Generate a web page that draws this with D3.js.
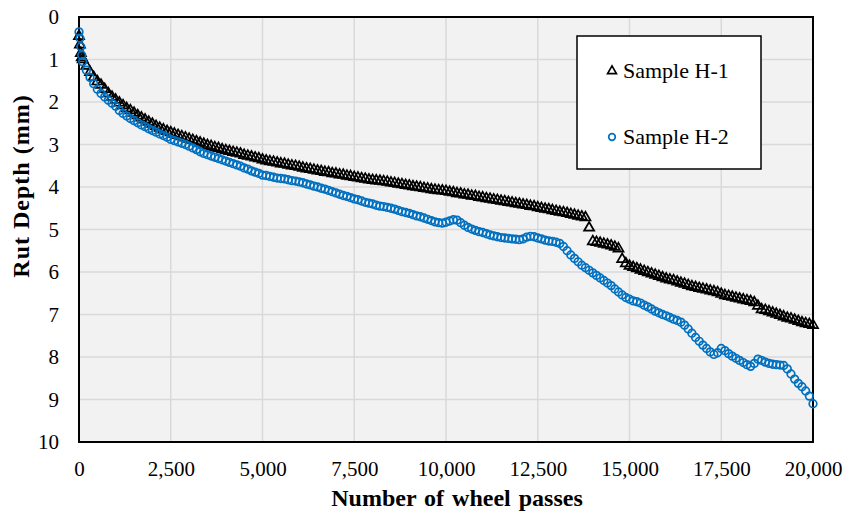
<!DOCTYPE html>
<html><head><meta charset="utf-8">
<script src="https://cdn.jsdelivr.net/npm/d3@7"></script>
<style>body{margin:0;background:#fff}svg{display:block}</style>
</head><body>
<svg id="c" width="844" height="520"></svg>
<script>
const passes = [0,25,50,75,100,200,300,400,500,600,700,800,900,1000,1100,1200,1300,1400,1500,1600,1700,1800,1900,2000,
2100,2200,2300,2400,2500,2600,2700,2800,2900,3000,3100,3200,3300,3400,3500,3600,3700,3800,3900,4000,
4100,4200,4300,4400,4500,4600,4700,4800,4900,5000,5100,5200,5300,5400,5500,5600,5700,5800,5900,6000,
6100,6200,6300,6400,6500,6600,6700,6800,6900,7000,7100,7200,7300,7400,7500,7600,7700,7800,7900,8000,
8100,8200,8300,8400,8500,8600,8700,8800,8900,9000,9100,9200,9300,9400,9500,9600,9700,9800,9900,10000,
10100,10200,10300,10400,10500,10600,10700,10800,10900,11000,11100,11200,11300,11400,11500,11600,11700,11800,11900,12000,
12100,12200,12300,12400,12500,12600,12700,12800,12900,13000,13100,13200,13300,13400,13500,13600,13700,13800,13900,14000,
14100,14200,14300,14400,14500,14600,14700,14800,14900,15000,15100,15200,15300,15400,15500,15600,15700,15800,15900,16000,
16100,16200,16300,16400,16500,16600,16700,16800,16900,17000,17100,17200,17300,17400,17500,17600,17700,17800,17900,18000,
18100,18200,18300,18400,18500,18600,18700,18800,18900,19000,19100,19200,19300,19400,19500,19600,19700,19800,19900,20000];

const sampleH1 = [0.45,0.65,0.85,0.95,1.0,1.15,1.3,1.42,1.52,1.6,1.7,1.8,1.88,1.95,2.02,2.08,2.15,2.2,2.26,2.32,2.37,2.42,2.47,2.52,
2.57,2.61,2.65,2.69,2.72,2.75,2.78,2.81,2.84,2.87,2.9,2.93,2.96,2.99,3.02,3.04,3.07,3.09,3.12,3.14,
3.16,3.18,3.2,3.22,3.25,3.27,3.29,3.31,3.33,3.36,3.38,3.4,3.41,3.43,3.45,3.46,3.48,3.5,3.51,3.53,
3.55,3.57,3.58,3.6,3.62,3.63,3.65,3.66,3.68,3.69,3.71,3.72,3.74,3.75,3.77,3.78,3.8,3.81,3.83,3.84,
3.85,3.86,3.87,3.88,3.9,3.91,3.93,3.94,3.96,3.97,3.99,4.0,4.01,4.03,4.04,4.06,4.07,4.08,4.09,4.1,
4.12,4.13,4.15,4.16,4.18,4.19,4.21,4.22,4.24,4.25,4.27,4.28,4.3,4.31,4.33,4.34,4.36,4.37,4.39,4.4,
4.42,4.43,4.45,4.46,4.48,4.5,4.52,4.53,4.55,4.57,4.59,4.6,4.62,4.64,4.66,4.68,4.7,4.72,4.96,5.28,
5.3,5.32,5.34,5.36,5.38,5.41,5.45,5.7,5.8,5.86,5.89,5.92,5.95,5.98,6.01,6.04,6.07,6.1,6.13,6.16,
6.18,6.2,6.23,6.26,6.28,6.31,6.34,6.36,6.38,6.4,6.42,6.44,6.46,6.48,6.52,6.55,6.57,6.59,6.61,6.63,
6.65,6.67,6.69,6.72,6.8,6.88,6.9,6.93,6.96,6.99,7.02,7.05,7.08,7.1,7.13,7.16,7.19,7.21,7.23,7.25];

const sampleH2 = [0.35,0.5,0.7,0.9,1.05,1.25,1.42,1.57,1.7,1.8,1.88,1.96,2.03,2.1,2.2,2.27,2.33,2.39,2.44,2.49,2.54,2.58,2.63,2.67,
2.71,2.75,2.79,2.83,2.88,2.91,2.94,2.97,3.0,3.04,3.08,3.12,3.17,3.21,3.24,3.27,3.3,3.33,3.36,3.39,
3.42,3.45,3.48,3.51,3.55,3.58,3.62,3.65,3.68,3.72,3.73,3.75,3.77,3.79,3.8,3.81,3.83,3.85,3.86,3.88,
3.9,3.93,3.95,3.98,4.0,4.03,4.05,4.08,4.11,4.14,4.17,4.2,4.22,4.25,4.28,4.3,4.33,4.36,4.38,4.4,
4.43,4.45,4.46,4.48,4.5,4.52,4.55,4.58,4.6,4.62,4.65,4.68,4.7,4.73,4.76,4.79,4.82,4.84,4.85,4.83,
4.8,4.77,4.78,4.84,4.9,4.95,4.99,5.02,5.05,5.07,5.1,5.13,5.15,5.17,5.19,5.2,5.21,5.22,5.23,5.24,
5.22,5.18,5.16,5.17,5.2,5.22,5.25,5.27,5.28,5.3,5.33,5.4,5.5,5.6,5.68,5.76,5.84,5.9,5.96,6.02,
6.08,6.14,6.2,6.26,6.32,6.4,6.47,6.54,6.6,6.64,6.68,6.7,6.73,6.78,6.82,6.87,6.92,6.96,7.0,7.03,
7.07,7.11,7.14,7.18,7.25,7.34,7.44,7.54,7.63,7.72,7.8,7.88,7.94,7.9,7.8,7.85,7.92,7.98,8.03,8.08,
8.13,8.18,8.22,8.15,8.05,8.08,8.12,8.15,8.17,8.18,8.19,8.2,8.28,8.4,8.52,8.62,8.7,8.8,8.92,9.1];

const xTicks = [0,2500,5000,7500,10000,12500,15000,17500,20000];
const yTicks = [0,1,2,3,4,5,6,7,8,9,10];
const seriesNames = ["Sample H-1","Sample H-2"];
const seriesColors = ["#000000","#0070C0"];

const svg = d3.select("#c");
const m = {l:79, t:17, r:813, b:442};
const x = d3.scaleLinear().domain([0,20000]).range([m.l, m.r]);
const y = d3.scaleLinear().domain([0,10]).range([m.t, m.b]);
const font = "'Liberation Serif','Times New Roman',serif";

svg.append("rect").attr("x",m.l).attr("y",m.t).attr("width",m.r-m.l).attr("height",m.b-m.t).attr("fill","#f2f2f2");

svg.append("g").selectAll("line").data(xTicks.slice(1,-1)).join("line")
  .attr("x1",d=>x(d)).attr("x2",d=>x(d)).attr("y1",m.t).attr("y2",m.b)
  .attr("stroke","#d9d9d9").attr("stroke-width",1.5);
svg.append("g").selectAll("line").data(yTicks.slice(1,-1)).join("line")
  .attr("y1",d=>y(d)).attr("y2",d=>y(d)).attr("x1",m.l).attr("x2",m.r)
  .attr("stroke","#d9d9d9").attr("stroke-width",1.5);

const xAxis = svg.append("g").attr("transform",`translate(0,${m.b})`)
  .call(d3.axisBottom(x).tickValues(xTicks).tickSize(0).tickPadding(19).tickFormat(d3.format(",")));
const yAxis = svg.append("g").attr("transform",`translate(${m.l},0)`)
  .call(d3.axisLeft(y).tickValues(yTicks).tickSize(0).tickPadding(20).tickFormat(d3.format("d")));
[xAxis,yAxis].forEach(a=>{
  a.select(".domain").remove();
  a.selectAll("text").attr("font-family",font).attr("font-size",21).attr("fill","#000");
});

svg.append("rect").attr("x",m.l).attr("y",m.t).attr("width",m.r-m.l).attr("height",m.b-m.t)
  .attr("fill","none").attr("stroke","#000").attr("stroke-width",2);

const data1 = passes.map((p,i)=>({p, v:sampleH1[i]}));
const data2 = passes.map((p,i)=>({p, v:sampleH2[i]}));
const tri = d3.symbol().type(d3.symbolTriangle).size(44);

svg.append("g").selectAll("path").data(data1).join("path")
  .attr("d",tri).attr("transform",d=>`translate(${x(d.p)},${y(d.v)})`)
  .attr("fill","none").attr("stroke",seriesColors[0]).attr("stroke-width",1.7);
svg.append("g").selectAll("circle").data(data2).join("circle")
  .attr("cx",d=>x(d.p)).attr("cy",d=>y(d.v)).attr("r",3.8)
  .attr("fill","none").attr("stroke",seriesColors[1]).attr("stroke-width",1.7);

const lg = svg.append("g");
lg.append("rect").attr("x",577).attr("y",36).attr("width",184).attr("height",133)
  .attr("fill","#fff").attr("stroke","#000").attr("stroke-width",1.5);
lg.append("path").attr("d",d3.symbol().type(d3.symbolTriangle).size(34)).attr("transform","translate(612,71)")
  .attr("fill","none").attr("stroke",seriesColors[0]).attr("stroke-width",1.7);
lg.append("circle").attr("cx",612).attr("cy",137).attr("r",3.3)
  .attr("fill","none").attr("stroke",seriesColors[1]).attr("stroke-width",1.7);
lg.selectAll("text").data(seriesNames).join("text")
  .attr("x",623).attr("y",(d,i)=>i===0?78:144)
  .attr("font-family",font).attr("font-size",22).text(d=>d);

svg.append("text").attr("x",457).attr("y",506).attr("text-anchor","middle")
  .attr("font-family",font).attr("font-size",24).attr("font-weight","bold")
  .attr("word-spacing",2)
  .text("Number of wheel passes");
svg.append("text").attr("transform","translate(29,186) rotate(-90)").attr("text-anchor","middle")
  .attr("font-family",font).attr("font-size",24).attr("font-weight","bold")
  .attr("letter-spacing",1)
  .text("Rut Depth (mm)");
</script>
</body></html>
